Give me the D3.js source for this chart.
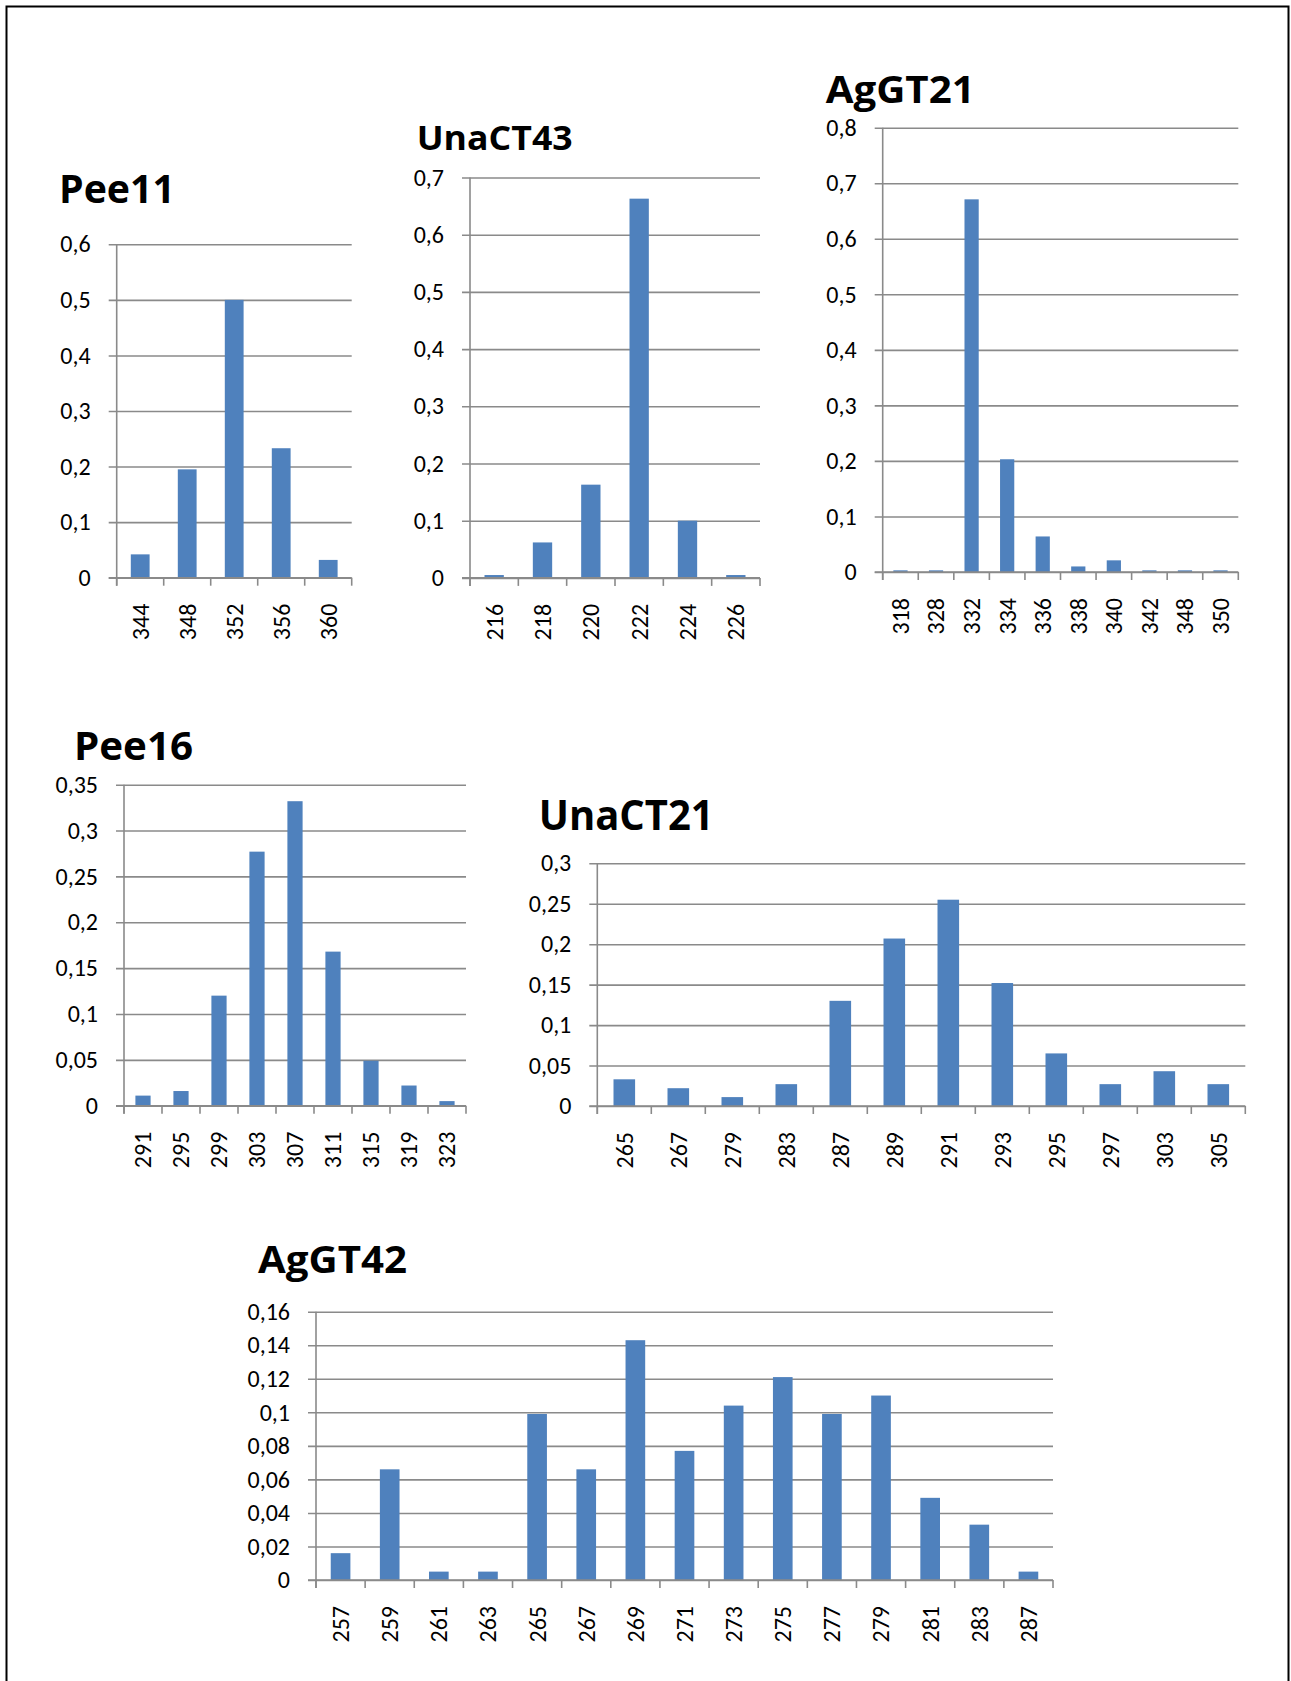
<!DOCTYPE html>
<html>
<head>
<meta charset="utf-8">
<script src="https://cdn.jsdelivr.net/npm/d3@7"></script>
<style>
  html, body { margin: 0; padding: 0; background: #fff; }
  svg { display: block; }
</style>
</head>
<body>
<svg id="chart" width="1291" height="1681"></svg>
<script>
// ---------- DATA ----------
const pee11Cats = ["344", "348", "352", "356", "360"];
const pee11Vals = [0.042, 0.195, 0.5, 0.233, 0.032];
const pee11Ticks = [0, 0.1, 0.2, 0.3, 0.4, 0.5, 0.6];

const unaCT43Cats = ["216", "218", "220", "222", "224", "226"];
const unaCT43Vals = [0.005, 0.062, 0.163, 0.663, 0.1, 0.005];
const unaCT43Ticks = [0, 0.1, 0.2, 0.3, 0.4, 0.5, 0.6, 0.7];

const agGT21Cats = ["318", "328", "332", "334", "336", "338", "340", "342", "348", "350"];
const agGT21Vals = [0.003, 0.003, 0.671, 0.203, 0.064, 0.01, 0.021, 0.003, 0.003, 0.003];
const agGT21Ticks = [0, 0.1, 0.2, 0.3, 0.4, 0.5, 0.6, 0.7, 0.8];

const pee16Cats = ["291", "295", "299", "303", "307", "311", "315", "319", "323"];
const pee16Vals = [0.011, 0.016, 0.12, 0.277, 0.332, 0.168, 0.049, 0.022, 0.005];
const pee16Ticks = [0, 0.05, 0.1, 0.15, 0.2, 0.25, 0.3, 0.35];

const unaCT21Cats = ["265", "267", "279", "283", "287", "289", "291", "293", "295", "297", "303", "305"];
const unaCT21Vals = [0.033, 0.022, 0.011, 0.027, 0.13, 0.207, 0.255, 0.152, 0.065, 0.027, 0.043, 0.027];
const unaCT21Ticks = [0, 0.05, 0.1, 0.15, 0.2, 0.25, 0.3];

const agGT42Cats = ["257", "259", "261", "263", "265", "267", "269", "271", "273", "275", "277", "279", "281", "283", "287"];
const agGT42Vals = [0.016, 0.066, 0.005, 0.005, 0.099, 0.066, 0.143, 0.077, 0.104, 0.121, 0.099, 0.110, 0.049, 0.033, 0.005];
const agGT42Ticks = [0, 0.02, 0.04, 0.06, 0.08, 0.1, 0.12, 0.14, 0.16];

// ---------- LAYOUT ----------
const panels = [
  { title: "Pee11",   cats: pee11Cats,   vals: pee11Vals,   ticks: pee11Ticks,
    x0: 116.7, x1: 351.7, yTop: 244.3, yBot: 577.7,
    tx: 59, ty: 203.3, tSize: 39, tLen: 116 },
  { title: "UnaCT43", cats: unaCT43Cats, vals: unaCT43Vals, ticks: unaCT43Ticks,
    x0: 470, x1: 760, yTop: 177.5, yBot: 577.9,
    tx: 416.7, ty: 150, tSize: 33.5, tLen: 156 },
  { title: "AgGT21",  cats: agGT21Cats,  vals: agGT21Vals,  ticks: agGT21Ticks,
    x0: 882.7, x1: 1238.3, yTop: 127.7, yBot: 572,
    tx: 825.7, ty: 102.5, tSize: 38, tLen: 149 },
  { title: "Pee16",   cats: pee16Cats,   vals: pee16Vals,   ticks: pee16Ticks,
    x0: 124, x1: 466, yTop: 784.7, yBot: 1105.7,
    tx: 74, ty: 760, tSize: 39.5, tLen: 119 },
  { title: "UnaCT21", cats: unaCT21Cats, vals: unaCT21Vals, ticks: unaCT21Ticks,
    x0: 597.3, x1: 1245.3, yTop: 863.3, yBot: 1106,
    tx: 538.7, ty: 830, tSize: 42, tLen: 175 },
  { title: "AgGT42",  cats: agGT42Cats,  vals: agGT42Vals,  ticks: agGT42Ticks,
    x0: 316, x1: 1053, yTop: 1311.7, yBot: 1580,
    tx: 258, ty: 1273.3, tSize: 37.5, tLen: 149 }
];

const FONT = "Carlito, 'Open Sans', sans-serif";
const TITLE_FONT = "'Open Sans', sans-serif";
const TICK_SIZE = 24;
const BAR = "#4F81BD";
const GRID = "#8a8a8a";
const fmt = v => String(+v.toFixed(3)).replace(".", ",");

const svg = d3.select("#chart");

// frame (no bottom edge, as in the reference)
svg.append("path")
  .attr("d", "M6.5,1681 V6.5 H1288.5 V1681")
  .attr("fill", "none")
  .attr("stroke", "#000")
  .attr("stroke-width", 2);

panels.forEach(p => {
  const g = svg.append("g");
  const maxV = p.ticks[p.ticks.length - 1];
  const y = d3.scaleLinear().domain([0, maxV]).range([p.yBot, p.yTop]);
  const x = d3.scaleBand().domain(p.cats).range([p.x0, p.x1]).paddingInner(0).paddingOuter(0);
  const xb = d3.scaleBand().domain(p.cats).range([p.x0, p.x1]).paddingInner(0.6).paddingOuter(0.3);

  // title
  g.append("text")
    .attr("x", p.tx).attr("y", p.ty)
    .attr("font-family", TITLE_FONT)
    .attr("font-weight", "bold")
    .attr("font-size", p.tSize)
    .attr("textLength", p.tLen)
    .attr("lengthAdjust", "spacingAndGlyphs")
    .attr("fill", "#000")
    .text(p.title);

  // gridlines + y ticks
  const yAxis = d3.axisLeft(y)
    .tickValues(p.ticks)
    .tickSize(-(p.x1 - p.x0) - 8)
    .tickPadding(18)
    .tickFormat(fmt);
  const ya = g.append("g")
    .attr("transform", `translate(${p.x0 - 8},0)`)
    .call(yAxis);
  ya.select(".domain").remove();
  ya.selectAll(".tick line")
    .attr("x1", 0).attr("x2", p.x1 - p.x0 + 8)
    .attr("stroke", GRID).attr("stroke-width", 1.6);
  ya.selectAll(".tick text")
    .attr("x", -18)
    .attr("font-family", FONT)
    .attr("font-size", TICK_SIZE)
    .attr("fill", "#000");

  // bars
  g.append("g").selectAll("rect")
    .data(p.cats.map((c, i) => ({ c, v: p.vals[i] })))
    .join("rect")
    .attr("x", d => xb(d.c))
    .attr("width", xb.bandwidth())
    .attr("y", d => y(d.v))
    .attr("height", d => y(0) - y(d.v))
    .attr("fill", BAR);

  // vertical axis line
  g.append("line")
    .attr("x1", p.x0).attr("x2", p.x0)
    .attr("y1", p.yTop).attr("y2", p.yBot + 8)
    .attr("stroke", GRID).attr("stroke-width", 1.6);

  // x axis (baseline + tick marks at band edges)
  g.append("line")
    .attr("x1", p.x0 - 8).attr("x2", p.x1)
    .attr("y1", p.yBot).attr("y2", p.yBot)
    .attr("stroke", GRID).attr("stroke-width", 1.6);
  const edges = p.cats.map(c => x(c)).concat([p.x1]);
  g.append("g").selectAll("line")
    .data(edges)
    .join("line")
    .attr("x1", d => d).attr("x2", d => d)
    .attr("y1", p.yBot).attr("y2", p.yBot + 8)
    .attr("stroke", GRID).attr("stroke-width", 1.6);

  // category labels, rotated
  g.append("g").selectAll("text")
    .data(p.cats)
    .join("text")
    .attr("transform", c => `translate(${x(c) + x.bandwidth() / 2},${p.yBot + 26})rotate(-90)`)
    .attr("text-anchor", "end")
    .attr("dy", "0.35em")
    .attr("font-family", FONT)
    .attr("font-size", TICK_SIZE)
    .attr("fill", "#000")
    .text(c => c);
});
</script>
</body>
</html>
